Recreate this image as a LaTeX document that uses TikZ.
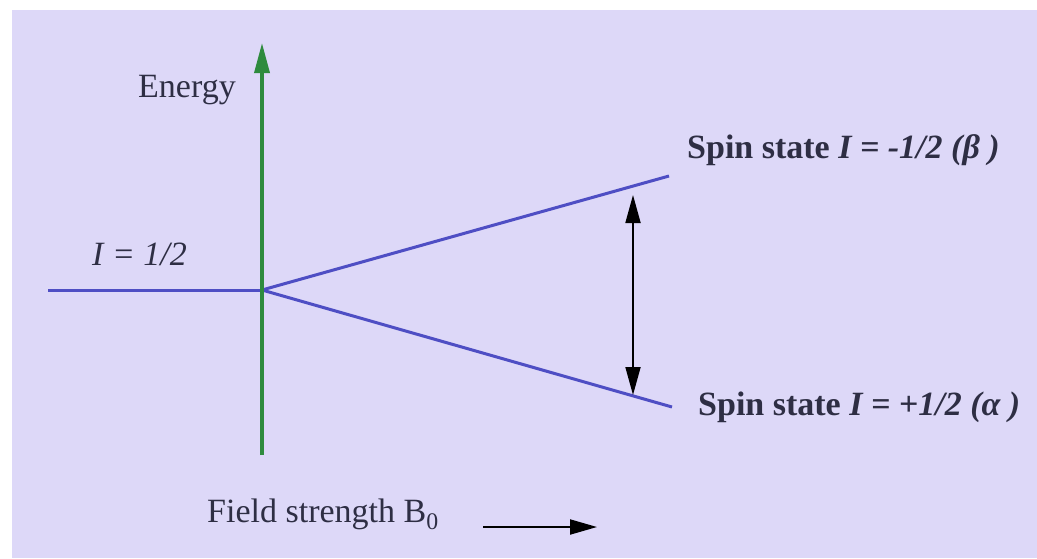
\documentclass[tikz,border=0pt]{standalone}
\usepackage{fontspec}
\setmainfont{Liberation Serif}
\usetikzlibrary{arrows.meta}
\definecolor{bgl}{HTML}{DDD8F8}
\definecolor{txt}{HTML}{2E2E44}
\definecolor{lvl}{HTML}{4E4EC4}
\definecolor{axg}{HTML}{2E8B3E}
\tikzset{
  lbl/.style={inner sep=0pt, anchor=base west, text=txt, font=\fontsize{34}{40}\selectfont},
  level/.style={draw=lvl, line width=3pt},
  axis/.style={draw=axg, line width=3.5pt, -{Triangle[length=30pt,width=15pt]}},
  trans/.style={draw=black, line width=1.8pt, {Triangle[length=28pt,width=15pt]}-{Triangle[length=28pt,width=15pt]}},
  fieldarrow/.style={draw=black, line width=2pt, -{Triangle[length=27pt,width=15pt]}}
}
\begin{document}
\begin{tikzpicture}[x=1pt,y=-1pt]
\useasboundingbox (0,0) rectangle (1037,558);
\fill[white] (0,0) rectangle (1037,558);
\fill[bgl] (12,10) rectangle (1037,558);
% coordinates
\coordinate (O) at (262,290);
\coordinate (L) at (48,290);
\coordinate (U) at (669,176);
\coordinate (D) at (672,407);
\coordinate (ab) at (262,455);
\coordinate (at) at (262,43);
\coordinate (tt) at (633,195);
\coordinate (tb) at (633,395);
\coordinate (fa) at (483,527);
\coordinate (fb) at (597,527);
% levels
\draw[level] (L) -- (O);
\draw[level] (O) -- (U);
\draw[level] (O) -- (D);
% axis
\draw[axis] (ab) -- (at);
% transition
\draw[trans] (tt) -- (tb);
% field arrow
\draw[fieldarrow] (fa) -- (fb);
% labels
\node[lbl] (energy) at (138,97) {Energy};
\node[lbl] (ihalf) at (92,265) {\textit{I = 1/2}};
\node[lbl] (beta) at (687,158) {\textbf{Spin state \textit{I = -1/2 (β )}}};
\node[lbl] (alpha) at (698,415) {\textbf{Spin state \textit{I = +1/2 (α )}}};
\node[lbl] (field) at (207,522) {Field strength B\textsubscript{0}};
\end{tikzpicture}
\end{document}
